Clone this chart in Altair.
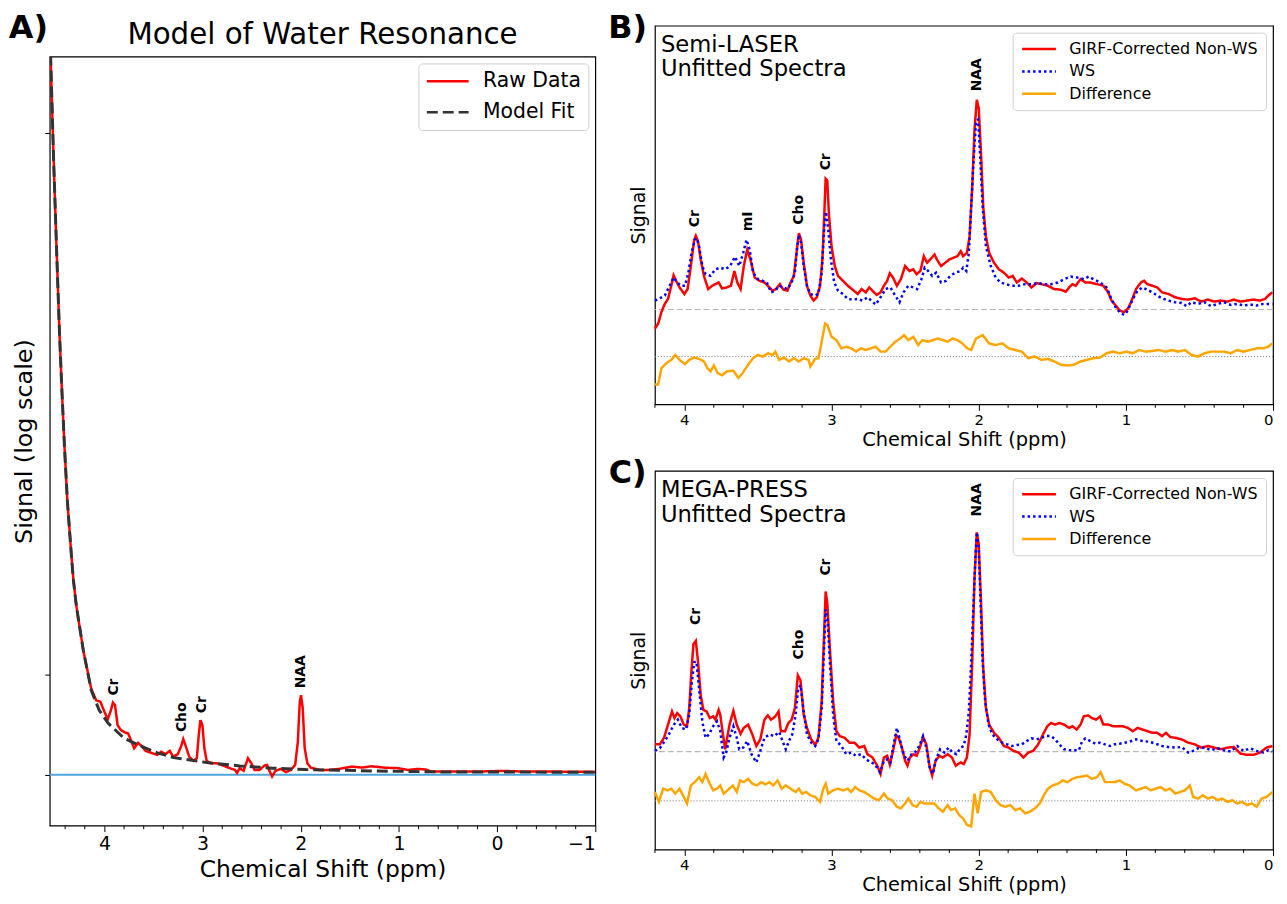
import altair as alt
import pandas as pd

FONT = "DejaVu Sans"

# ---------------- Panel A : model of the water resonance ----------------
a_raw_ppm = [4.56, 4.548, 4.518, 4.488, 4.458, 4.437, 4.407, 4.377, 4.336, 4.316, 4.286, 4.215, 4.134,
             4.084, 4.040, 4.000, 3.966, 3.939, 3.913, 3.892, 3.866, 3.832, 3.792, 3.758, 3.731, 3.697,
             3.657, 3.624, 3.580, 3.513, 3.462, 3.422, 3.378, 3.334, 3.301, 3.254, 3.220, 3.197, 3.170,
             3.136, 3.092, 3.059, 3.039, 3.022, 3.002, 2.982, 2.958, 2.918, 2.857, 2.790, 2.723, 2.672,
             2.649, 2.622, 2.582, 2.538, 2.504, 2.471, 2.420, 2.370, 2.343, 2.319, 2.292, 2.259, 2.202,
             2.151, 2.101, 2.057, 2.030, 2.010, 1.997, 1.980, 1.960, 1.933, 1.899, 1.815, 1.714, 1.613,
             1.479, 1.378, 1.277, 1.143, 1.008, 0.908, 0.807, 0.723, 0.672, 0.437, 0.202, -0.067, -0.27,
             -0.605, -1.0]
a_raw_val = [2.5e7, 1.66e7, 1.58e6, 2.0e5, 2.82e4, 8913, 1994, 561, 157, 90, 49, 16.8, 6.3,
             4.62, 4.41, 3.30, 2.63, 3.30, 4.33, 4.01, 2.16, 1.82, 1.67, 1.61, 1.24, 0.85,
             1.10, 0.96, 0.74, 0.65, 0.585, 0.71, 0.62, 0.74, 0.52, 0.61, 0.92, 1.29, 0.92,
             0.52, 0.38, 0.47, 1.51, 2.55, 2.16, 0.85, 0.38, 0.31, 0.31, 0.24, 0.167, 0.122,
             0.047, 0.167, 0.096, 0.47, 0.31, 0.122, 0.122, 0.24, 0.259, 0.096, -0.04, 0.096, 0.148,
             0.064, 0.122, 0.259, 1.14, 4.41, 5.31, 3.64, 0.85, 0.31, 0.183, 0.122, 0.122, 0.148,
             0.21, 0.183, 0.22, 0.18, 0.167, 0.12, 0.148, 0.13, 0.079, 0.079, 0.079, 0.096, 0.079,
             0.079, 0.071]
a_fit_ppm = [4.56, 4.548, 4.518, 4.488, 4.458, 4.437, 4.407, 4.377, 4.336, 4.316, 4.286, 4.215, 4.134,
             4.054, 3.963, 3.80, 3.63, 3.46, 3.294, 2.958, 2.622, 2.286, 1.95, 1.613, 1.277, 0.605,
             -0.605, -1.0]
a_fit_val = [2.5e7, 1.66e7, 1.58e6, 2.0e5, 2.82e4, 8913, 1994, 561, 157, 90, 49, 16.8, 6.08,
             3.47, 2.31, 1.33, 0.95, 0.66, 0.49, 0.33, 0.23, 0.167, 0.13, 0.114, 0.096, 0.071,
             0.064, 0.062]
a_lab_text = ["Cr", "Cho", "Cr", "NAA"]
a_lab_ppm = [3.906, 3.21, 3.002, 1.993]
a_lab_val = [4.33, 1.29, 2.55, 5.31]
a_major = [-1, 0, 1, 2, 3, 4]
a_minor = [-0.8, -0.6, -0.4, -0.2, 0.2, 0.4, 0.6, 0.8, 1.2, 1.4, 1.6, 1.8, 2.2, 2.4, 2.6, 2.8,
           3.2, 3.4, 3.6, 3.8, 4.2, 4.4]
a_y_ticks = [0, 9.2, 2.8e6]
a_series = ["Raw Data", "Model Fit"]

# ---------------- Panel B : Semi-LASER ----------------
b_red_ppm = [4.2, 4.178, 4.156, 4.133, 4.111, 4.089, 4.073, 4.056, 4.033, 4.0, 3.978, 3.956, 3.933, 3.922,
             3.907, 3.889, 3.867, 3.838, 3.811, 3.789, 3.767, 3.744, 3.711, 3.684, 3.660, 3.640, 3.618,
             3.596, 3.573, 3.551, 3.522, 3.489, 3.456, 3.433, 3.4, 3.378, 3.351, 3.327, 3.3, 3.278, 3.256,
             3.238, 3.222, 3.207, 3.189, 3.167, 3.144, 3.122, 3.1, 3.078, 3.062, 3.049, 3.04, 3.029, 3.018,
             3.0, 2.978, 2.956, 2.922, 2.889, 2.856, 2.822, 2.796, 2.767, 2.744, 2.722, 2.693, 2.667, 2.644,
             2.622, 2.604, 2.582, 2.556, 2.529, 2.5, 2.471, 2.444, 2.422, 2.396, 2.373, 2.351, 2.329, 2.3,
             2.284, 2.256, 2.227, 2.2, 2.173, 2.144, 2.122, 2.106, 2.08, 2.062, 2.044, 2.029, 2.013, 2.0,
             1.984, 1.969, 1.951, 1.929, 1.896, 1.863, 1.829, 1.796, 1.769, 1.741, 1.707, 1.674, 1.641,
             1.608, 1.574, 1.53, 1.486, 1.441, 1.408, 1.386, 1.363, 1.341, 1.308, 1.275, 1.242, 1.197,
             1.153, 1.12, 1.098, 1.069, 1.042, 1.013, 0.987, 0.965, 0.931, 0.898, 0.876, 0.854, 0.82,
             0.787, 0.754, 0.71, 0.665, 0.621, 0.576, 0.532, 0.488, 0.443, 0.399, 0.355, 0.31, 0.266,
             0.222, 0.177, 0.133, 0.089, 0.055, 0.033, 0.004]
b_red_val = [-5.8, -4.3, -0.8, 1.7, 3.2, 7.2, 10.4, 8.7, 6.7, 4.7, 6.2, 13.2, 21.2, 22.4,
             20.7, 15.2, 10.2, 6.2, 7.2, 7.7, 8.2, 6.4, 6.7, 7.2, 11.7, 8.2, 6.2,
             13.2, 18.2, 15.2, 9.7, 8.7, 8.2, 7.2, 5.7, 6.2, 7.7, 6.0, 5.7, 8.2, 10.2,
             17.2, 23.2, 21.2, 14.2, 7.2, 4.2, 2.7, 3.7, 7.2, 15.2, 29.2, 39.7, 39.2, 29.2,
             19.2, 13.2, 10.2, 8.7, 7.2, 6.0, 4.7, 6.2, 5.2, 6.7, 5.7, 4.4, 5.2, 7.2,
             8.7, 11.0, 9.7, 7.2, 9.2, 13.2, 11.7, 12.2, 10.7, 11.7, 16.2, 14.2, 15.2, 16.7,
             15.2, 13.2, 14.2, 15.2, 15.7, 16.2, 17.7, 16.2, 17.2, 22.2, 37.2, 54.2, 63.7, 61.2,
             47.2, 31.2, 22.2, 17.2, 14.2, 12.2, 11.2, 9.7, 10.2, 8.2, 9.4, 8.2, 6.7,
             8.0, 7.7, 7.2, 6.2, 6.0, 5.4, 6.7, 7.7, 7.2, 9.2, 8.2, 8.2, 7.7,
             7.2, 5.2, 2.7, 1.2, -0.3, -0.8, 0.2, 2.2, 6.2, 8.2, 8.7, 7.7, 7.2,
             6.7, 5.2, 4.7, 3.7, 3.2, 3.0, 3.4, 2.4, 3.0, 2.4, 2.7, 2.4, 3.0,
             2.4, 2.7, 3.0, 2.7, 3.2, 4.2, 5.2]
b_ws_ppm = [4.2, 4.167, 4.133, 4.1, 4.073, 4.049, 4.022, 3.996, 3.973, 3.951, 3.929, 3.916, 3.9, 3.878,
            3.856, 3.822, 3.789, 3.756, 3.722, 3.689, 3.656, 3.627, 3.6, 3.578, 3.556, 3.533, 3.5, 3.467,
            3.44, 3.411, 3.382, 3.356, 3.329, 3.3, 3.271, 3.249, 3.233, 3.222, 3.207, 3.189, 3.167, 3.144,
            3.116, 3.089, 3.067, 3.049, 3.038, 3.022, 3.004, 2.982, 2.956, 2.922, 2.889, 2.856, 2.822,
            2.789, 2.756, 2.722, 2.7, 2.667, 2.633, 2.6, 2.567, 2.538, 2.511, 2.478, 2.444, 2.418, 2.389,
            2.367, 2.344, 2.316, 2.289, 2.256, 2.222, 2.189, 2.156, 2.122, 2.106, 2.084, 2.067, 2.051,
            2.035, 2.018, 2.004, 1.991, 1.973, 1.951, 1.918, 1.885, 1.851, 1.818, 1.774, 1.729, 1.685,
            1.641, 1.596, 1.552, 1.508, 1.463, 1.419, 1.375, 1.33, 1.286, 1.253, 1.22, 1.175, 1.131,
            1.098, 1.064, 1.031, 1.009, 0.987, 0.953, 0.92, 0.887, 0.854, 0.82, 0.787, 0.754, 0.71,
            0.665, 0.621, 0.588, 0.554, 0.51, 0.466, 0.421, 0.377, 0.333, 0.288, 0.244, 0.2, 0.155,
            0.111, 0.067, 0.004]
b_ws_val = [2.7, 3.4, 4.2, 7.2, 9.7, 8.2, 7.2, 7.2, 11.2, 17.2, 21.2, 21.7, 19.2, 13.2,
            10.7, 10.2, 12.2, 12.7, 12.2, 13.2, 16.0, 13.2, 17.2, 21.2, 18.2, 11.2, 9.2, 8.7,
            8.2, 5.2, 5.7, 7.2, 6.7, 6.2, 8.2, 11.2, 19.2, 22.7, 20.2, 13.2, 7.2, 4.7,
            4.2, 4.7, 11.2, 25.2, 29.7, 24.2, 15.2, 8.2, 5.7, 4.7, 3.2, 3.0, 3.2,
            2.7, 3.7, 2.4, 1.5, 3.7, 6.2, 6.7, 4.2, 2.2, 5.2, 7.2, 6.7, 6.2, 9.2,
            12.7, 11.7, 10.2, 11.2, 8.2, 8.7, 10.4, 11.2, 11.7, 12.7, 11.7, 17.2, 31.2,
            45.2, 57.2, 57.7, 47.2, 31.2, 19.2, 13.2, 9.7, 8.2, 7.7, 7.2, 7.2, 7.7,
            7.7, 8.0, 7.7, 7.7, 8.2, 9.2, 10.0, 9.7, 9.2, 10.0, 9.2, 8.2, 6.7,
            3.2, 0.2, -1.3, -1.6, -0.3, 3.2, 5.7, 6.7, 6.0, 5.2, 4.2, 3.4, 2.7,
            2.2, 2.0, 1.0, 2.2, 1.7, 2.2, 1.0, 1.7, 2.2, 1.4, 1.7, 1.2, 1.5,
            1.2, 1.7, 1.7]
b_diff_ppm = [4.2, 4.178, 4.156, 4.122, 4.089, 4.062, 4.033, 3.996, 3.967, 3.933, 3.9, 3.867, 3.844,
              3.822, 3.8, 3.773, 3.744, 3.711, 3.667, 3.633, 3.604, 3.567, 3.533, 3.5, 3.467, 3.433,
              3.4, 3.382, 3.356, 3.322, 3.289, 3.256, 3.222, 3.189, 3.156, 3.144, 3.111, 3.089, 3.067,
              3.044, 3.027, 3.0, 2.967, 2.933, 2.9, 2.867, 2.833, 2.8, 2.767, 2.733, 2.7, 2.667, 2.633,
              2.6, 2.567, 2.533, 2.507, 2.478, 2.444, 2.411, 2.382, 2.344, 2.311, 2.278, 2.244, 2.211,
              2.178, 2.144, 2.111, 2.078, 2.051, 2.018, 1.973, 1.929, 1.885, 1.84, 1.796, 1.752, 1.707,
              1.663, 1.619, 1.574, 1.53, 1.486, 1.441, 1.397, 1.353, 1.308, 1.264, 1.22, 1.175, 1.131,
              1.086, 1.042, 0.998, 0.953, 0.909, 0.865, 0.82, 0.776, 0.732, 0.687, 0.643, 0.599, 0.554,
              0.51, 0.466, 0.421, 0.377, 0.333, 0.288, 0.244, 0.2, 0.155, 0.111, 0.067, 0.033, 0.004]
b_diff_val = [-8.5, -8.5, -3.5, -2.0, -1.0, 0.5, -1.0, -2.3, -1.0, -0.3, -0.7, -1.5, -3.5,
              -4.5, -2.7, -5.0, -5.7, -4.5, -4.3, -6.5, -5.0, -2.5, -0.5, 0.5, 0.0, 1.0,
              0.5, 1.5, -1.0, -0.3, -1.5, -0.5, -1.5, -0.5, -1.0, -3.0, -0.7, -0.5, 4.5,
              10.0, 9.5, 6.0, 5.0, 2.5, 3.0, 2.5, 1.5, 2.5, 2.0, 2.5, 3.0, 1.5, 1.5,
              3.0, 4.5, 5.5, 6.5, 5.0, 6.0, 3.5, 5.0, 4.5, 5.0, 5.5, 5.0, 4.5,
              5.5, 5.0, 4.0, 2.5, 2.0, 5.5, 6.5, 4.0, 3.5, 4.0, 2.5, 2.0, 1.5,
              -0.5, 0.0, -1.0, -0.7, -1.5, -2.5, -2.7, -2.5, -1.5, -1.0, -0.5, -0.3, 1.0,
              1.5, 1.0, 1.5, 1.0, 2.0, 1.5, 1.7, 2.0, 1.5, 2.0, 1.5, 2.0, 0.5,
              0.0, 1.0, 1.5, 1.5, 1.5, 1.0, 2.0, 1.5, 2.0, 2.5, 2.5, 3.0, 4.0]
b_lab_text = ["Cr", "mI", "Cho", "Cr", "NAA"]
b_lab_ppm = [3.929, 3.567, 3.222, 3.04, 2.013]
b_lab_val = [22.4, 21.2, 23.2, 39.7, 63.7]

# ---------------- Panel C : MEGA-PRESS ----------------
c_red_ppm = [4.2, 4.167, 4.138, 4.111, 4.084, 4.067, 4.049, 4.027, 4.004, 3.982, 3.967, 3.951, 3.938, 3.922,
             3.907, 3.889, 3.871, 3.849, 3.827, 3.804, 3.789, 3.767, 3.756, 3.738, 3.722, 3.711, 3.693,
             3.667, 3.644, 3.618, 3.596, 3.567, 3.538, 3.511, 3.484, 3.456, 3.433, 3.411, 3.382, 3.36,
             3.344, 3.316, 3.293, 3.271, 3.249, 3.229, 3.211, 3.189, 3.167, 3.138, 3.111, 3.089, 3.067,
             3.051, 3.04, 3.029, 3.011, 2.989, 2.967, 2.944, 2.911, 2.878, 2.844, 2.811, 2.778, 2.756,
             2.722, 2.689, 2.667, 2.644, 2.622, 2.604, 2.582, 2.56, 2.544, 2.522, 2.5, 2.484, 2.467, 2.444,
             2.422, 2.4, 2.378, 2.356, 2.333, 2.316, 2.293, 2.267, 2.244, 2.211, 2.182, 2.156, 2.122, 2.102,
             2.08, 2.062, 2.044, 2.029, 2.013, 2.0, 1.984, 1.969, 1.951, 1.929, 1.896, 1.863, 1.829, 1.796,
             1.763, 1.729, 1.696, 1.663, 1.63, 1.596, 1.563, 1.534, 1.508, 1.481, 1.452, 1.419, 1.386,
             1.363, 1.335, 1.308, 1.286, 1.257, 1.231, 1.202, 1.175, 1.153, 1.12, 1.086, 1.053, 1.02,
             0.987, 0.953, 0.92, 0.887, 0.854, 0.82, 0.787, 0.754, 0.727, 0.698, 0.665, 0.621, 0.576,
             0.532, 0.488, 0.443, 0.399, 0.355, 0.31, 0.266, 0.222, 0.177, 0.133, 0.089, 0.044, 0.004]
c_red_val = [2.2, 2.2, 4.2, 8.2, 12.2, 10.2, 11.7, 10.7, 8.2, 7.7, 13.2, 25.2, 32.7, 33.7,
             27.2, 17.2, 12.7, 12.2, 10.2, 10.7, 9.7, 12.7, 11.2, 5.2, 0.7, 3.7, 8.2,
             12.4, 8.2, 5.4, 7.2, 8.2, 5.2, 1.7, 3.7, 9.7, 11.0, 9.7, 10.7, 12.2,
             6.2, 6.2, 8.7, 9.7, 13.2, 23.2, 21.7, 11.2, 7.2, 3.7, 2.0, 4.2, 15.2,
             35.2, 48.7, 45.2, 31.2, 15.2, 6.2, 4.7, 4.2, 2.7, 2.7, 1.2, 1.7, -0.8,
             -1.8, -4.3, -6.8, -1.8, -1.3, -4.0, 0.2, 5.0, 4.2, 1.2, -2.8, -4.3, -1.8, -0.8,
             -1.3, 1.2, 4.4, 2.2, -4.8, -7.3, -2.8, -1.3, -1.8, -0.8, -1.8, -4.3, -3.3, -3.8,
             -1.8, 5.2, 27.2, 52.2, 66.7, 63.2, 45.2, 25.2, 13.2, 8.2, 5.7, 4.2, 1.7, 1.2,
             0.2, -0.3, -1.8, -0.3, 0.2, 2.2, 5.2, 7.7, 8.7, 8.2, 8.7, 8.2, 7.2,
             7.7, 6.7, 8.2, 10.7, 11.0, 10.2, 9.7, 10.7, 8.2, 8.2, 7.7, 7.7, 7.7,
             7.2, 6.2, 7.2, 6.7, 6.2, 5.7, 5.7, 4.7, 5.7, 4.4, 4.2, 3.7, 2.7,
             2.2, 1.2, 1.7, 1.2, 0.7, 1.2, 1.4, -0.6, -1.0, -1.0, -0.3, 1.2, 1.7]
c_ws_ppm = [4.2, 4.167, 4.133, 4.1, 4.071, 4.044, 4.018, 3.989, 3.967, 3.949, 3.933, 3.918, 3.9, 3.878,
            3.856, 3.833, 3.804, 3.778, 3.756, 3.733, 3.716, 3.693, 3.667, 3.644, 3.627, 3.6, 3.573,
            3.544, 3.511, 3.484, 3.456, 3.422, 3.389, 3.356, 3.333, 3.311, 3.289, 3.267, 3.244, 3.227,
            3.211, 3.189, 3.167, 3.138, 3.111, 3.089, 3.067, 3.051, 3.04, 3.027, 3.011, 2.989, 2.967,
            2.933, 2.9, 2.867, 2.833, 2.8, 2.767, 2.733, 2.707, 2.671, 2.644, 2.618, 2.6, 2.578, 2.556,
            2.533, 2.511, 2.484, 2.456, 2.433, 2.404, 2.378, 2.356, 2.333, 2.311, 2.289, 2.262, 2.233,
            2.204, 2.178, 2.151, 2.122, 2.102, 2.084, 2.067, 2.051, 2.035, 2.022, 2.013, 2.0, 1.987,
            1.973, 1.956, 1.933, 1.907, 1.874, 1.84, 1.807, 1.774, 1.741, 1.707, 1.674, 1.641, 1.607,
            1.574, 1.541, 1.508, 1.481, 1.452, 1.419, 1.386, 1.353, 1.319, 1.297, 1.275, 1.242, 1.208,
            1.175, 1.142, 1.109, 1.075, 1.042, 1.009, 0.976, 0.931, 0.887, 0.843, 0.798, 0.754, 0.71,
            0.665, 0.621, 0.576, 0.543, 0.51, 0.466, 0.421, 0.377, 0.333, 0.288, 0.244, 0.2, 0.155,
            0.111, 0.067, 0.033, 0.004]
c_ws_val = [0.2, 1.0, 3.2, 5.7, 8.2, 9.7, 7.2, 6.7, 11.2, 21.2, 27.2, 27.4, 19.2, 9.2,
            4.2, 5.2, 7.7, 9.2, 6.2, -1.8, -0.3, 4.2, 7.7, 4.2, 0.7, 1.2, 3.2,
            -0.8, -3.3, 0.2, 4.2, 5.2, 4.7, 6.0, 3.2, 0.7, 3.2, 5.2, 11.2, 19.2,
            20.2, 12.2, 5.2, 2.7, 1.7, 3.7, 13.2, 31.2, 43.2, 40.2, 27.2, 11.2, 3.2,
            1.7, -0.8, -0.3, -1.3, -0.8, -2.3, -3.3, -3.8, -6.3, -2.8, -2.3, -3.3, 2.2, 7.2,
            3.2, -0.8, -2.8, -0.8, -0.3, 1.7, 4.7, 1.2, -4.8, -6.8, -2.3, 0.7, -0.3,
            1.2, -0.3, -0.8, 1.2, 1.7, 5.2, 12.2, 27.2, 45.2, 59.2, 66.7, 62.2, 45.2,
            27.2, 15.2, 8.2, 5.2, 3.7, 2.7, 2.2, 1.7, 2.0, 2.2, 3.2, 4.0, 3.7,
            4.2, 4.7, 4.7, 3.7, 2.2, 0.7, 0.4, 0.4, 0.4, 3.2, 4.0, 3.2, 2.4,
            2.7, 2.2, 1.7, 2.2, 2.4, 2.7, 3.0, 3.7, 3.2, 3.0, 2.4, 1.7, 1.4,
            1.2, 1.4, -0.3, 0.2, 1.0, 1.2, 0.4, 1.0, 0.4, 0.0, 1.7, 0.2, 1.0,
            0.2, -0.3, 0.4, 0.0]
c_diff_ppm = [4.2, 4.173, 4.144, 4.116, 4.089, 4.062, 4.033, 4.004, 3.982, 3.956, 3.929, 3.9, 3.878,
              3.856, 3.833, 3.804, 3.778, 3.756, 3.733, 3.707, 3.671, 3.644, 3.622, 3.596, 3.567, 3.538,
              3.507, 3.478, 3.449, 3.422, 3.396, 3.367, 3.338, 3.311, 3.278, 3.244, 3.222, 3.2, 3.173,
              3.144, 3.111, 3.078, 3.056, 3.04, 3.022, 2.989, 2.956, 2.922, 2.889, 2.867, 2.84, 2.811,
              2.778, 2.744, 2.711, 2.678, 2.644, 2.618, 2.589, 2.556, 2.529, 2.5, 2.478, 2.449, 2.422,
              2.396, 2.367, 2.333, 2.3, 2.271, 2.244, 2.211, 2.189, 2.16, 2.133, 2.107, 2.08, 2.051,
              2.029, 2.007, 1.984, 1.951, 1.918, 1.885, 1.851, 1.818, 1.785, 1.752, 1.718, 1.685, 1.652,
              1.619, 1.585, 1.557, 1.53, 1.497, 1.463, 1.43, 1.397, 1.363, 1.33, 1.297, 1.264, 1.231,
              1.197, 1.171, 1.142, 1.109, 1.075, 1.042, 1.009, 0.976, 0.931, 0.898, 0.865, 0.831, 0.798,
              0.765, 0.732, 0.698, 0.665, 0.632, 0.599, 0.565, 0.543, 0.51, 0.477, 0.443, 0.41, 0.377,
              0.344, 0.31, 0.277, 0.244, 0.211, 0.177, 0.144, 0.111, 0.078, 0.044, 0.004]
c_diff_val = [2.7, -0.3, 3.7, 3.2, 3.7, 2.2, 3.7, 1.2, -0.8, 4.7, 5.7, 7.2, 5.7,
              8.2, 5.7, 3.2, 3.7, 4.7, 2.2, 3.2, 4.7, 2.7, 6.2, 5.7, 6.7, 5.2,
              4.7, 5.7, 5.0, 5.7, 4.7, 6.2, 3.7, 4.7, 3.7, 2.7, 3.7, 2.2, 2.7,
              1.7, 1.2, -0.3, 3.7, 5.2, 2.2, 3.2, 3.7, 3.2, 3.7, 2.7, 4.2, 3.2,
              2.7, 1.7, 0.7, 0.2, 2.2, 0.7, 0.2, -1.8, -2.3, -0.8, 0.7, -1.3, -1.8,
              -0.3, -0.8, -0.8, -0.8, -2.3, -3.3, -1.3, -2.8, -2.3, -4.3, -5.3, -7.3, -7.8,
              2.2, -3.8, 2.7, 3.2, 2.7, 0.2, -1.3, -1.8, -1.3, -2.8, -2.3, -3.8, -3.3,
              -2.3, -0.8, 1.7, 3.7, 4.7, 5.2, 6.2, 5.7, 6.7, 7.2, 7.4, 7.7, 6.7,
              7.2, 8.7, 5.7, 5.7, 5.7, 6.2, 5.2, 4.7, 3.2, 3.7, 4.2, 3.2, 3.7,
              4.2, 3.2, 3.7, 2.2, 2.7, 3.2, 4.7, 1.2, 0.7, 1.7, 0.7, 1.2, 0.2,
              0.7, -0.3, 0.2, -0.8, -0.3, -1.3, -0.8, -1.8, 0.7, 1.2, 2.7]
c_lab_text = ["Cr", "Cho", "Cr", "NAA"]
c_lab_ppm = [3.922, 3.222, 3.04, 2.013]
c_lab_val = [33.7, 23.2, 48.7, 66.7]

bc_major = [0, 1, 2, 3, 4]
bc_minor = [0.2, 0.4, 0.6, 0.8, 1.2, 1.4, 1.6, 1.8, 2.2, 2.4, 2.6, 2.8, 3.2, 3.4, 3.6, 3.8, 4.2]
bc_series = ["GIRF-Corrected Non-WS", "WS", "Difference"]
bc_colors = ["#ff0000", "#0000ff", "#ffa500"]
bc_dashes = [[1, 0], [2.5, 3], [1, 0]]

XTITLE = "Chemical Shift (ppm)"
INDEP = dict(color="independent", strokeDash="independent")


def frame(ppm, val, series):
    return pd.DataFrame({"ppm": ppm, "value": val, "series": series})


def ppm_axis(values, label_size, title_size, label_pad, title_pad):
    return alt.Axis(
        values=values, title=XTITLE, format="d", tickSize=6, tickColor="black", tickWidth=1,
        labelFontSize=label_size, titleFontSize=title_size, labelPadding=label_pad,
        titlePadding=title_pad, labelOverlap=False, labelFlush=True, labelAngle=0,
        domain=False, grid=False, labelColor="black", titleColor="black",
        labelFont=FONT, titleFont=FONT, titleFontWeight="normal")


def minor_ticks(values, plot_height):
    return alt.Chart(pd.DataFrame({"ppm": values})).mark_rule(
        color="black", strokeWidth=1, clip=False
    ).encode(x=alt.X("ppm:Q", title=XTITLE), y=alt.value(plot_height), y2=alt.value(plot_height + 3.5))


def text_at(text, px, py, size, weight="normal", align="center", baseline="middle"):
    return alt.Chart(pd.DataFrame({"txt": [text]})).mark_text(
        fontSize=size, fontWeight=weight, font=FONT, align=align, baseline=baseline, color="black",
        lineBreak="\n", lineHeight=25
    ).encode(text="txt:N", x=alt.value(px), y=alt.value(py))


# ---------------- build panel A ----------------
A_W, A_H = 549, 774
a_df = pd.concat([frame(a_raw_ppm, a_raw_val, "Raw Data"), frame(a_fit_ppm, a_fit_val, "Model Fit")],
                 ignore_index=True)
legA = alt.Legend(title=None, orient="top-right", offset=7, symbolType="stroke", symbolSize=1764,
                  symbolStrokeWidth=2.5, labelFontSize=20.5, labelFont=FONT, labelColor="black",
                  fillColor="white", strokeColor="#d0d0d0", cornerRadius=4, padding=7, rowPadding=9,
                  clipHeight=22, labelOffset=13, labelLimit=300)
xA = alt.X("ppm:Q", scale=alt.Scale(domain=[-1, 4.557], reverse=True, nice=False, zero=False),
           axis=ppm_axis(a_major, 19, 23.5, 3, 4))
yA = alt.Y("value:Q", scale=alt.Scale(type="symlog", constant=1, domain=[-2.24, 1.66e7], nice=False, zero=False),
           axis=alt.Axis(values=a_y_ticks, labels=False, tickSize=5, title="Signal (log scale)",
                         titleFontSize=24, titlePadding=8, domain=False, grid=False, tickColor="black",
                         titleFont=FONT, titleFontWeight="normal", titleColor="black"))
colA = alt.Color("series:N", scale=alt.Scale(domain=a_series, range=["#ff0000", "#333333"]), legend=legA)
dashA = alt.StrokeDash("series:N", scale=alt.Scale(domain=a_series, range=[[1, 0], [11, 5]]), legend=legA)
baseA = alt.Chart(a_df).encode(x=xA, y=yA, color=colA, strokeDash=dashA)
rawA = baseA.transform_filter(alt.datum.series == "Raw Data").mark_line(strokeWidth=2.5, clip=True)
fitA = baseA.transform_filter(alt.datum.series == "Model Fit").mark_line(strokeWidth=3, clip=True)
zeroA = alt.Chart(pd.DataFrame({"value": [0.0]})).mark_rule(color="#4ea6dc", strokeWidth=2).encode(
    y=alt.Y("value:Q", title="Signal (log scale)"))
labA = alt.Chart(pd.DataFrame({"ppm": a_lab_ppm, "value": a_lab_val, "label": a_lab_text})).mark_text(
    angle=270, align="left", baseline="middle", dx=7, fontSize=14, fontWeight="bold", font=FONT, color="black"
).encode(x=alt.X("ppm:Q", title=XTITLE), y=alt.Y("value:Q", title="Signal (log scale)"), text="label:N")
panelA = alt.layer(zeroA, rawA, fitA, labA, minor_ticks(a_minor, A_H)).properties(width=A_W, height=A_H)

# header strip above panel A (panel letter and title); its top is level with panel B's plot top
headerA = alt.layer(
    text_at("Model of Water Resonance", A_W / 2, 18.5, 29.5, baseline="alphabetic"),
    text_at("A)", -21.5, 2.5, 32, weight="bold"),
).properties(width=A_W, height=29, view=alt.ViewBackground(stroke="transparent"))

columnA = alt.vconcat(headerA, panelA, spacing=0).resolve_scale(**INDEP)


# ---------------- build panels B / C ----------------
BC_W, BC_H = 622, 381


def spectra_panel(red_ppm, red_val, ws_ppm, ws_val, diff_ppm, diff_val, diff_offset, ydomain,
                  lab_ppm, lab_val, lab_text, lab_dx, note, letter, letter_y):
    df = pd.concat([frame(red_ppm, red_val, bc_series[0]), frame(ws_ppm, ws_val, bc_series[1]),
                    frame(diff_ppm, diff_val, bc_series[2])], ignore_index=True)
    leg = alt.Legend(title=None, orient="top-right", offset=7, symbolType="stroke", symbolSize=1156,
                     symbolStrokeWidth=2.5, labelFontSize=16, labelFont=FONT, labelColor="black",
                     fillColor="white", strokeColor="#d0d0d0", cornerRadius=4, padding=8, rowPadding=5.5,
                     clipHeight=17, labelOffset=12, labelLimit=400)
    x = alt.X("ppm:Q", scale=alt.Scale(domain=[0, 4.2], reverse=True, nice=False, zero=False),
              axis=ppm_axis(bc_major, 15, 19.5, 2, 3))
    y = alt.Y("value:Q", scale=alt.Scale(domain=ydomain, nice=False, zero=False),
              axis=alt.Axis(title="Signal", titleFontSize=19, titlePadding=6, labels=False, ticks=False,
                            domain=False, grid=False, titleFont=FONT, titleFontWeight="normal",
                            titleColor="black"))
    col = alt.Color("series:N", scale=alt.Scale(domain=bc_series, range=bc_colors), legend=leg)
    dash = alt.StrokeDash("series:N", scale=alt.Scale(domain=bc_series, range=bc_dashes), legend=leg)
    base = alt.Chart(df).encode(x=x, y=y, color=col, strokeDash=dash)
    red = base.transform_filter(alt.datum.series == bc_series[0]).mark_line(strokeWidth=2.5)
    ws = base.transform_filter(alt.datum.series == bc_series[1]).mark_line(strokeWidth=2.5)
    diff = base.transform_filter(alt.datum.series == bc_series[2]).transform_calculate(
        value=f"datum.value + ({diff_offset})").mark_line(strokeWidth=2.5)
    zero = alt.Chart(pd.DataFrame({"value": [0.0]})).mark_rule(
        color="#b8b8b8", strokeWidth=1.2, strokeDash=[6, 3]).encode(y=alt.Y("value:Q", title="Signal"))
    dzero = alt.Chart(pd.DataFrame({"value": [0.0]})).transform_calculate(
        value=f"datum.value + ({diff_offset})").mark_rule(
        color="#888888", strokeWidth=1, strokeDash=[1.2, 1.8]).encode(y=alt.Y("value:Q", title="Signal"))
    labs = alt.Chart(pd.DataFrame({"ppm": lab_ppm, "value": lab_val, "label": lab_text})).mark_text(
        angle=270, align="left", baseline="middle", dx=lab_dx, fontSize=14, fontWeight="bold",
        font=FONT, color="black"
    ).encode(x=alt.X("ppm:Q", title=XTITLE), y=alt.Y("value:Q", title="Signal"), text="label:N")
    return alt.layer(
        zero, dzero, red, ws, diff, labs, minor_ticks(bc_minor, BC_H),
        text_at(note, 6, 26, 22.8, align="left", baseline="alphabetic"),
        text_at(letter, -27.5, letter_y, 32, weight="bold"),
    ).properties(width=BC_W, height=BC_H)


panelB = spectra_panel(b_red_ppm, b_red_val, b_ws_ppm, b_ws_val, b_diff_ppm, b_diff_val, -14.3,
                       [-28.8, 86.2], b_lab_ppm, b_lab_val, b_lab_text, 8.5,
                       "Semi-LASER\nUnfitted Spectra", "B)", 2.5)
panelC = spectra_panel(c_red_ppm, c_red_val, c_ws_ppm, c_ws_val, c_diff_ppm, c_diff_val, -15.0,
                       [-29.8, 85.4], c_lab_ppm, c_lab_val, c_lab_text, 16,
                       "MEGA-PRESS\nUnfitted Spectra", "C)", 2)

right = alt.vconcat(panelB, panelC, spacing=6).resolve_scale(**INDEP)
chart = alt.hconcat(columnA, right, spacing=10).resolve_scale(**INDEP).properties(
    padding={"left": 0, "top": 0, "right": 0, "bottom": 0}
).configure(font=FONT).configure_view(stroke="black", strokeWidth=1.2)

chart.save("out.html", embed_options={"renderer": "svg", "actions": False})
